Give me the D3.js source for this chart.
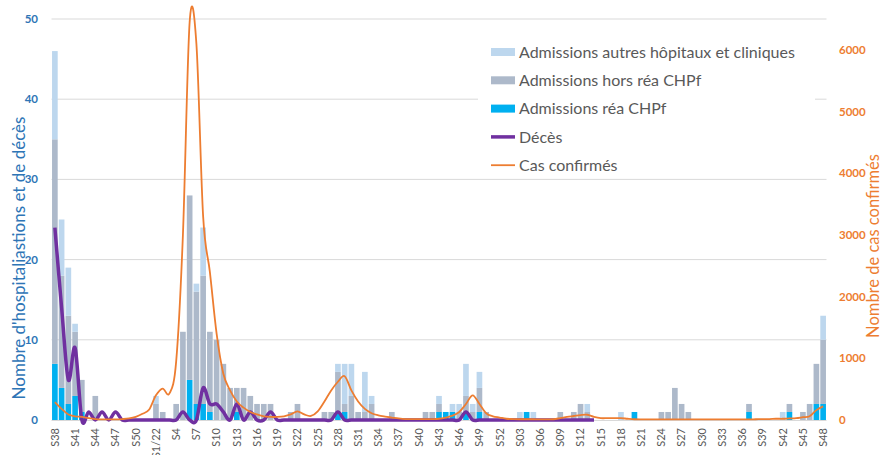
<!DOCTYPE html>
<html lang="fr">
<head>
<meta charset="UTF-8">
<title>Hospitalisations, décès et cas confirmés</title>
<script src="https://cdn.jsdelivr.net/npm/d3@7"></script>
<style>
  body { margin: 0; background: #fff; }
  svg { display: block; font-family: Lato, "Noto Sans", sans-serif; }
</style>
</head>
<body>
<script>
// weeks S38/2021 -> S48/2023
var weeks = [
  "S38","S39","S40","S41","S42","S43","S44","S45","S46","S47","S48","S49","S50","S51","S52",
  "S1/22","S2","S3","S4","S5","S6","S7","S8","S9","S10","S11","S12","S13","S14","S15","S16","S17","S18","S19","S20",
  "S21","S22","S23","S24","S25","S26","S27","S28","S29","S30","S31","S32","S33","S34","S35","S36","S37","S38","S39","S40",
  "S41","S42","S43","S44","S45","S46","S47","S48","S49","S50","S51","S52",
  "S01","S02","S03","S04","S05","S06","S07","S08","S09","S10","S11","S12","S13","S14","S15","S16","S17","S18","S19","S20",
  "S21","S22","S23","S24","S25","S26","S27","S28","S29","S30","S31","S32","S33","S34","S35","S36","S37","S38","S39","S40",
  "S41","S42","S43","S44","S45","S46","S47","S48"
];

var reaCHPf = [
  7,4,2,3,1,0,0,0,0,0,  0,0,0,0,0,0,0,0,0,0,  5,2,2,1,0,0,0,1,0,0,  0,0,0,0,0,0,0,0,0,0,
  0,0,1,1,0,0,0,0,0,0,  0,0,0,0,0,0,0,1,1,1,  0,1,0,1,0,0,0,0,0,0,  1,0,0,0,0,0,0,0,0,0,
  0,0,0,0,0,0,1,0,0,0,  0,0,0,0,0,0,0,0,0,0,  0,0,0,1,0,0,0,0,0,1,  0,0,0,2,2
];
var horsReaCHPf = [
  28,14,11,8,4,0,3,0,0,0,  0,0,0,0,0,2,1,0,2,11,  23,14,16,10,10,7,4,3,4,3,  2,2,2,0,0,1,2,0,0,0,
  1,1,5,1,3,1,1,2,0,0,  1,0,0,0,0,1,1,1,0,0,  1,2,1,3,1,0,0,0,0,0,  0,0,0,0,0,1,0,1,2,1,
  0,0,0,0,0,0,0,0,0,0,  1,1,4,2,1,0,0,0,0,0,  0,0,0,1,0,0,0,0,0,1,  0,1,2,5,8
];
var autresHopitaux = [
  11,7,6,1,0,0,0,0,0,0,  0,0,0,0,0,1,0,0,0,0,  0,1,6,0,0,0,0,0,0,0,  0,0,0,0,0,0,0,0,0,0,
  0,0,1,5,4,0,5,1,0,0,  0,0,0,0,0,0,0,1,0,1,  1,4,1,2,0,0,0,0,0,1,  0,1,0,0,0,0,0,0,0,1,
  0,0,0,0,1,0,0,0,0,0,  0,0,0,0,0,0,0,0,0,0,  0,0,0,0,0,0,0,0,1,0,  0,0,0,0,3
];
var deces = [
  24,14,5,9,0,1,0,1,0,1,  0,0,0,0,0,0,0,0,0,1,  0,0,4,2,2,1,0,2,0,1,  0,0,1,0,0,0,0,0,0,0,
  0,0,1,0,0,0,0,0,0,0,  0,0,0,0,0,0,0,0,0,0,  0,1,0,0,0,0,0,0,0,0,  0,0,0,0,0,0,0,0,0,0,
  0
];
var casConfirmes = [
  290,180,90,60,50,30,15,10,10,10,  15,25,50,100,170,400,510,430,950,3000,
  6450,6100,3300,2400,1400,750,480,300,200,130,  90,60,50,50,60,90,140,90,65,140,
  300,480,620,710,480,300,180,110,75,55,  40,25,15,15,15,15,15,20,40,70,
  130,260,400,260,110,60,40,20,15,12,  12,12,10,10,12,30,50,65,80,85,
  50,30,30,30,30,20,12,10,10,10,  10,10,10,10,10,10,10,10,10,10,
  10,10,10,10,12,15,15,20,20,25,  30,45,60,160,220
];
var leftTicks = [0, 10, 20, 30, 40, 50];
var rightTicks = [0, 1000, 2000, 3000, 4000, 5000, 6000];

var width = 883, height = 455;
var x0 = 51.5, x1 = 826.5, yBase = 420, yTop = 19;

var svg = d3.select('body').append('svg').attr('width', width).attr('height', height);

// week labels repeat across years, so the band scale works on the week index
var idx = d3.range(weeks.length);
var x = d3.scaleBand().domain(idx).range([x0, x1]).paddingInner(0.16).paddingOuter(0.08);
var yL = d3.scaleLinear().domain([0, 50]).range([yBase, yTop]);
var yR = d3.scaleLinear().domain([0, 6500]).range([yBase, yTop]);

var blue = '#2e75b6', orange = '#ed7d31';
var colors = { rea: '#00b0f0', hors: '#adb9ca', autres: '#bdd7ee' };

// gridlines
svg.append('g').selectAll('line').data(leftTicks.slice(1)).join('line')
    .attr('x1', x0).attr('x2', x1)
    .attr('y1', function (d) { return yL(d); }).attr('y2', function (d) { return yL(d); })
    .attr('stroke', '#d9d9d9').attr('stroke-width', 1);

// stacked bars
var rows = idx.map(function (i) {
    return { i: i, rea: reaCHPf[i], hors: horsReaCHPf[i], autres: autresHopitaux[i] };
});
var stack = d3.stack().keys(['rea', 'hors', 'autres'])(rows);
svg.append('g').selectAll('g').data(stack).join('g')
    .attr('fill', function (s) { return colors[s.key]; })
    .selectAll('rect').data(function (s) { return s.filter(function (d) { return d[1] > d[0]; }); })
    .join('rect')
    .attr('x', function (d) { return x(d.data.i); })
    .attr('width', x.bandwidth())
    .attr('y', function (d) { return yL(d[1]); })
    .attr('height', function (d) { return yL(d[0]) - yL(d[1]); });

// baseline
svg.append('line').attr('x1', x0).attr('x2', x1).attr('y1', yBase + 0.5).attr('y2', yBase + 0.5)
    .attr('stroke', '#d9d9d9');

var cx = function (i) { return x(i) + x.bandwidth() / 2; };

// deces line
var lineDeces = d3.line()
    .defined(function (d) { return d != null; })
    .x(function (d, i) { return cx(i); })
    .y(function (d) { return yL(d); })
    .curve(d3.curveCardinal.tension(0));
svg.append('path').datum(deces).attr('d', lineDeces)
    .attr('fill', 'none').attr('stroke', '#7030a0').attr('stroke-width', 3.5)
    .attr('stroke-linejoin', 'round');

// cas confirmés line
var lineCas = d3.line()
    .x(function (d, i) { return cx(i); })
    .y(function (d) { return yR(d); })
    .curve(d3.curveCardinal.tension(0));
svg.append('path').datum(casConfirmes).attr('d', lineCas)
    .attr('fill', 'none').attr('stroke', orange).attr('stroke-width', 1.8);

// left axis
svg.append('g').selectAll('text').data(leftTicks).join('text')
    .attr('x', 38).attr('y', function (d) { return yL(d); }).attr('dy', '0.35em')
    .attr('text-anchor', 'end').attr('font-size', 11.5).attr('font-weight', 'bold')
    .attr('fill', blue).text(function (d) { return d; });

// right axis
svg.append('g').selectAll('text').data(rightTicks).join('text')
    .attr('x', 839).attr('y', function (d) { return yR(d); }).attr('dy', '0.35em')
    .attr('text-anchor', 'start').attr('font-size', 11.5).attr('font-weight', 'bold')
    .attr('fill', orange).text(function (d) { return d; });

// x tick labels every 3 weeks
svg.append('g').selectAll('text').data(idx.filter(function (i) { return i % 3 === 0; })).join('text')
    .attr('transform', function (i) { return 'translate(' + cx(i) + ',428) rotate(-90)'; })
    .attr('dy', '0.35em').attr('text-anchor', 'end')
    .attr('font-size', 11).attr('fill', '#595959').text(function (i) { return weeks[i]; });

// axis titles
svg.append('text').attr('transform', 'translate(19,258) rotate(-90)')
    .attr('dy', '0.35em').attr('text-anchor', 'middle').attr('font-size', 17)
    .attr('fill', blue).text("Nombre d'hospitaliastions et de décès");
svg.append('text').attr('transform', 'translate(873,246) rotate(-90)')
    .attr('dy', '0.35em').attr('text-anchor', 'middle').attr('font-size', 16.5)
    .attr('fill', orange).text('Nombre de cas confirmés');

// legend
var legend = svg.append('g');
legend.append('rect').attr('x', 478).attr('y', 30).attr('width', 337).attr('height', 143).attr('fill', '#fff');
var items = [
    { label: 'Admissions autres hôpitaux et cliniques', type: 'rect', color: colors.autres },
    { label: 'Admissions hors réa CHPf', type: 'rect', color: colors.hors },
    { label: 'Admissions réa CHPf', type: 'rect', color: colors.rea },
    { label: 'Décès', type: 'line', color: '#7030a0', w: 3.5 },
    { label: 'Cas confirmés', type: 'line', color: orange, w: 1.8 }
];
var li = legend.selectAll('g').data(items).join('g')
    .attr('transform', function (d, i) { return 'translate(491,' + (52 + i * 28.3) + ')'; });
li.filter(function (d) { return d.type === 'rect'; }).append('rect')
    .attr('x', 0).attr('y', -4).attr('width', 24).attr('height', 8)
    .attr('fill', function (d) { return d.color; });
li.filter(function (d) { return d.type === 'line'; }).append('line')
    .attr('x1', 0).attr('x2', 24)
    .attr('stroke', function (d) { return d.color; })
    .attr('stroke-width', function (d) { return d.w; });
li.append('text').attr('x', 28).attr('dy', '0.35em').attr('font-size', 16)
    .attr('fill', '#595959').text(function (d) { return d.label; });
</script>
</body>
</html>
